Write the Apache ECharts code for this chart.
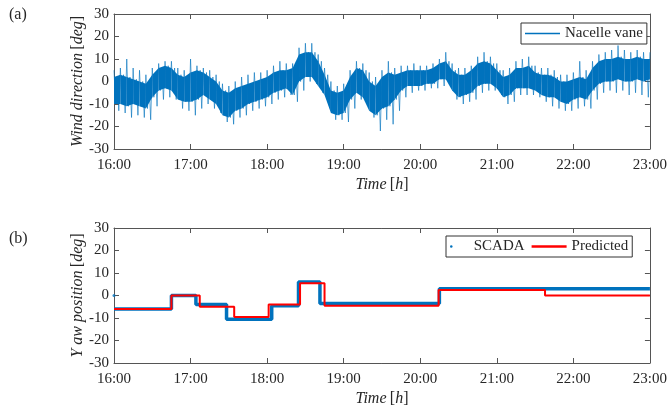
<!DOCTYPE html>
<html>
<head>
<meta charset="utf-8">
<script src="https://cdn.jsdelivr.net/npm/echarts@6/dist/echarts.min.js"></script>
<style>
  html, body { margin: 0; padding: 0; background: #fff; }
  #chart { width: 670px; height: 411px; }
</style>
</head>
<body>
<div id="chart"></div>
<script>
// (a) nacelle vane, every 5 min from 16:00 to 23:00
const vaneStartHour = 16
const vaneStepMin = 5
const vaneCoreHi = [2, 3, 2, 1, 0, -1, 3, 6, 7, 6, 3, 2,
  4, 5, 4, 2, 0, -4, -5, -3, -2, -1, 0, 1,
  2, 4, 5, 5, 6, 12, 13, 13, 9, 3, -4, -5,
  -4, 2, 6, 5, 0, -2, 2, 4, 3, 4, 5, 5,
  5, 5, 6, 8, 9, 5, 3, 3, 5, 8, 9, 8,
  5, 2, 3, 6, 6, 7, 4, 3, 3, 2, 0, 0,
  1, 2, 1, 6, 9, 10, 10, 11, 10, 10, 11, 10,
  10]
const vaneCoreLo = [-10, -10, -11, -10, -11, -12, -7, -4, -3, -4, -8, -9,
  -9, -8, -6, -8, -10, -15, -16, -13, -12, -10, -9, -8,
  -7, -5, -4, -3, -6, 0, 2, 2, -2, -6, -14, -15,
  -14, -8, -5, -7, -13, -15, -12, -11, -8, -4, -2, -2,
  -2, -1, -1, 1, 1, -4, -7, -6, -5, -2, -1, -1,
  -3, -7, -6, -3, -3, -3, -4, -6, -7, -7, -9, -10,
  -8, -7, -8, -4, -1, 0, 0, 1, 0, 0, 1, 0,
  1]
const vaneSpikeHi = [5, 6, 10, 6, 5, 3, 6, 8, 9, 9, 6, 5,
  10, 7, 6, 5, 3, -1, -2, 0, 2, 3, 4, 4,
  5, 7, 9, 8, 8, 15, 17, 17, 12, 6, 0, -2,
  -1, 5, 9, 8, 4, 2, 5, 9, 6, 7, 7, 8,
  7, 7, 8, 10, 13, 8, 6, 6, 7, 11, 13, 11,
  8, 5, 6, 9, 10, 11, 7, 6, 6, 5, 3, 3,
  4, 9, 5, 9, 12, 13, 14, 16, 14, 13, 14, 13,
  13]
const vaneSpikeLo = [-13, -14, -16, -15, -16, -17, -11, -8, -7, -8, -12, -13,
  -15, -12, -10, -12, -14, -18, -19, -16, -15, -13, -12, -11,
  -10, -8, -7, -6, -9, -4, 0, -1, -5, -10, -17, -17,
  -18, -12, -8, -10, -16, -22, -17, -19, -13, -7, -5, -4,
  -4, -3, -3, -2, -1, -8, -10, -9, -8, -5, -4, -4,
  -6, -10, -9, -6, -6, -6, -7, -9, -11, -12, -13, -13,
  -12, -11, -12, -8, -5, -4, -5, -4, -6, -5, -6, -7,
  -4]

// (b) yaw position steps, time in hours
const scadaTime = [16.0, 16.75, 17.07, 17.47, 18.06, 18.41, 18.69, 20.25, 23.0]
const scadaYaw = [-6, 0, -4, -10.5, -4.5, 6, -3.5, 3, 3]
const scadaStray = [[16.0, 0]]
const predTime = [16.0, 16.75, 17.12, 17.57, 18.02, 18.43, 18.75, 20.24, 21.63, 23.0]
const predYaw = [-6, 0, -5, -9.5, -4, 5.5, -4.5, 2.5, 0, 0]

const hourTicks = [16, 17, 18, 19, 20, 21, 22, 23]

const vaneTime = vaneCoreHi.map((_, i) => vaneStartHour + (i * vaneStepMin) / 60)

// zig-zag through the read envelope so the band looks like the dense raw trace
const vaneTrace = []
vaneTime.forEach((t, i) => {
  const d = vaneStepMin / 60 / 4
  vaneTrace.push([t, vaneSpikeHi[i]])
  if (i === vaneTime.length - 1) return
  vaneTrace.push([t + d, vaneCoreLo[i]])
  vaneTrace.push([t + 2 * d, vaneCoreHi[i]])
  vaneTrace.push([t + 3 * d, vaneSpikeLo[i]])
})

const stepData = (ts, vs) => ts.map((t, i) => [t, vs[i]])

const FONT = '"Liberation Serif", "DejaVu Serif", serif'
const INK = '#262626'
const FRAME = '#555'
const BLUE = '#0072BD'

function xAxes(gridIndex) {
  const base = {
    type: 'value', gridIndex, min: 16, max: 23, interval: 1,
    axisLine: { show: true, onZero: false, lineStyle: { color: FRAME, width: 1 } },
    axisTick: { show: true, inside: true, length: 5, lineStyle: { color: FRAME } },
    splitLine: { show: false },
  }
  return [
    {
      ...base,
      position: 'bottom',
      axisLabel: {
        margin: 9, color: INK, fontFamily: FONT, fontSize: 15,
        formatter: (v) => (hourTicks.includes(v) ? v + ':00' : ''),
      },
      name: '{i|Time} {r|[}{i|h}{r|]}',
      nameLocation: 'middle',
      nameGap: 28,
      nameMoveOverlap: false,
      nameTextStyle: {
        rich: {
          i: { fontFamily: FONT, fontStyle: 'italic', fontSize: 16, color: INK },
          r: { fontFamily: FONT, fontSize: 16, color: INK },
        },
      },
    },
    { ...base, position: 'top', axisLabel: { show: false } },
  ]
}

function yAxes(gridIndex, label) {
  const base = {
    type: 'value', gridIndex, min: -30, max: 30, interval: 10,
    axisLine: { show: true, onZero: false, lineStyle: { color: FRAME, width: 1 } },
    axisTick: { show: true, inside: true, length: 5, lineStyle: { color: FRAME } },
    splitLine: { show: false },
  }
  return [
    {
      ...base,
      position: 'left',
      axisLabel: { margin: 5, color: INK, fontFamily: FONT, fontSize: 15 },
      name: '{i|' + label + '} {r|[}{i|deg}{r|]}',
      nameLocation: 'middle',
      nameGap: 28,
      nameMoveOverlap: false,
      nameTextStyle: {
        rich: {
          i: { fontFamily: FONT, fontStyle: 'italic', fontSize: 16, color: INK },
          r: { fontFamily: FONT, fontSize: 16, color: INK },
        },
      },
    },
    { ...base, position: 'right', axisLabel: { show: false } },
  ]
}

const legendBox = {
  orient: 'horizontal',
  borderColor: '#333',
  borderWidth: 1,
  backgroundColor: '#fff',
  padding: [3, 4, 3, 4],
  itemWidth: 35,
  itemGap: 7,
  selectedMode: false,
  textStyle: { fontFamily: FONT, fontSize: 15, color: INK },
}

const chart = echarts.init(document.getElementById('chart'))

chart.setOption({
  animation: false,
  grid: [
    { left: 114, top: 14, width: 539, height: 135 },
    { left: 114, top: 228, width: 539, height: 135 },
  ],
  xAxis: [...xAxes(0), ...xAxes(1)],
  yAxis: [...yAxes(0, 'Wind direction'), ...yAxes(1, 'Y aw position')],
  legend: [
    {
      ...legendBox,
      left: 521, top: 23,
      itemHeight: 1.5,
      data: [{ name: 'Nacelle vane', icon: 'rect' }],
    },
    {
      ...legendBox,
      left: 446, top: 236,
      itemHeight: 2.5,
      data: [
        { name: 'SCADA', icon: 'circle' },
        { name: 'Predicted', icon: 'rect' },
      ],
    },
  ],
  graphic: [
    { type: 'text', left: 9, top: 7, style: { text: '(a)', font: '16px ' + FONT, fill: INK } },
    { type: 'text', left: 9, top: 231, style: { text: '(b)', font: '16px ' + FONT, fill: INK } },
  ],
  series: [
    {
      name: 'vane core',
      type: 'custom',
      xAxisIndex: 0, yAxisIndex: 0,
      silent: true,
      data: vaneTime.map((t, i) => [t, vaneCoreLo[i], vaneCoreHi[i]]),
      renderItem: (params, api) => {
        const i = params.dataIndex
        if (i >= vaneTime.length - 1) return null
        const pts = [
          api.coord([vaneTime[i], vaneCoreHi[i]]),
          api.coord([vaneTime[i + 1], vaneCoreHi[i + 1]]),
          api.coord([vaneTime[i + 1], vaneCoreLo[i + 1]]),
          api.coord([vaneTime[i], vaneCoreLo[i]]),
        ]
        return { type: 'polygon', shape: { points: pts }, style: { fill: BLUE } }
      },
      z: 3,
    },
    {
      name: 'Nacelle vane',
      type: 'line',
      xAxisIndex: 0, yAxisIndex: 0,
      data: vaneTrace,
      symbol: 'none',
      color: BLUE,
      lineStyle: { color: BLUE, width: 0.9, opacity: 0.7 },
      z: 2,
    },
    {
      name: 'SCADA',
      type: 'line',
      xAxisIndex: 2, yAxisIndex: 2,
      data: stepData(scadaTime, scadaYaw),
      step: 'end',
      symbol: 'none',
      color: BLUE,
      lineStyle: { color: BLUE, width: 3.5 },
      z: 2,
    },
    {
      name: 'SCADA',
      type: 'scatter',
      xAxisIndex: 2, yAxisIndex: 2,
      data: scadaStray,
      symbolSize: 3,
      color: BLUE,
      z: 2,
    },
    {
      name: 'Predicted',
      type: 'line',
      xAxisIndex: 2, yAxisIndex: 2,
      data: stepData(predTime, predYaw),
      step: 'end',
      symbol: 'none',
      color: '#ff0000',
      lineStyle: { color: '#ff0000', width: 2 },
      z: 3,
    },
  ],
})
</script>
</body>
</html>
